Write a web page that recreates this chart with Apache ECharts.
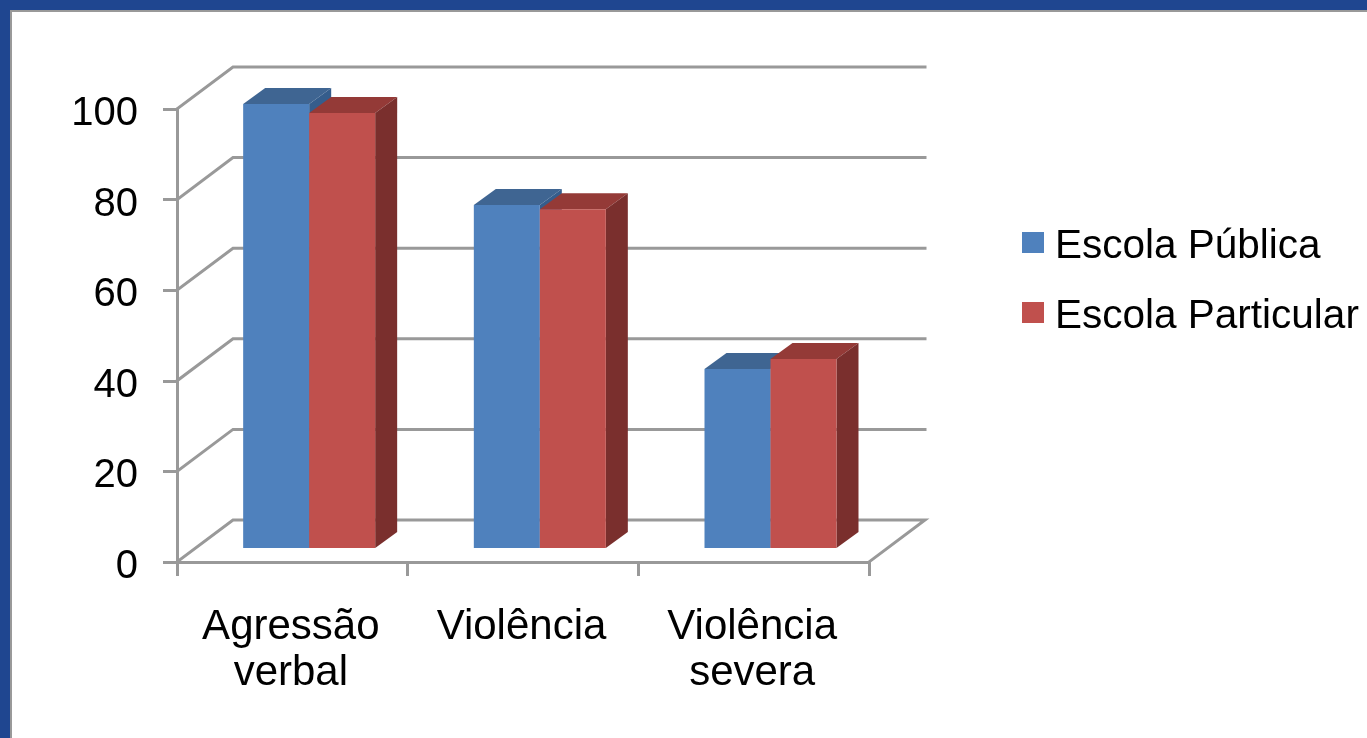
<!DOCTYPE html>
<html><head><meta charset="utf-8">
<script src="https://cdn.jsdelivr.net/npm/echarts@6/dist/echarts.min.js"></script>
<style>html,body{margin:0;padding:0;background:#fff;overflow:hidden}#c{width:1367px;height:738px;filter:blur(0.6px)}</style>
</head><body><div id="c"></div>
<script>
const categories = ['Agressão\nverbal', 'Violência', 'Violência\nsevera'];
const seriesNames = ['Escola Pública', 'Escola Particular'];
const publica = [98, 75.7, 39.5];
const particular = [96, 74.8, 41.7];
const yTicks = [0, 20, 40, 60, 80, 100];

const FONT = '"Liberation Sans", Arial, sans-serif';
const GRID = '#999999';
const faces = [
  {front: '#4F81BD', top: '#3F6592', side: '#355D8C'},
  {front: '#C0504D', top: '#943A37', side: '#7A2F2D'}
];
const WALL_DX = 56, WALL_DY = -42;
const BASE_DY = -14, DEPTH_DX = 22, DEPTH_DY = -16, BAR_W = 66;

function wallItem(params, api) {
  const v = api.value(0);
  const a = api.coord([0, v]);
  const left = a[0] - api.size([1, 0])[0] / 2;
  const right = left + api.size([1, 0])[0] * categories.length;
  const y = a[1];
  const pts = [[left, y], [left + WALL_DX, y + WALL_DY], [right + WALL_DX, y + WALL_DY]];
  if (v === 0) pts.push([right, y]);
  return {type: 'polyline', shape: {points: pts}, silent: true,
    style: {stroke: GRID, lineWidth: 3, fill: null, lineCap: 'square'}};
}

function barItem(s) {
  return function (params, api) {
    const top = api.coord([api.value(0), api.value(1)]);
    const x0 = top[0] + (s - 0.745) * BAR_W;
    const x1 = x0 + BAR_W;
    const yT = top[1] + BASE_DY;
    const yB = api.coord([api.value(0), 0])[1] + BASE_DY;
    const c = faces[s];
    return {type: 'group', children: [
      {type: 'polygon', shape: {points: [[x0, yT], [x0 + DEPTH_DX, yT + DEPTH_DY], [x1 + DEPTH_DX, yT + DEPTH_DY], [x1, yT]]}, style: {fill: c.top}},
      {type: 'polygon', shape: {points: [[x1, yT], [x1 + DEPTH_DX, yT + DEPTH_DY], [x1 + DEPTH_DX, yB + DEPTH_DY], [x1, yB]]}, style: {fill: c.side}},
      {type: 'rect', shape: {x: x0, y: yT, width: BAR_W, height: yB - yT}, style: {fill: c.front}}
    ]};
  };
}

const chart = echarts.init(document.getElementById('c'), null, {renderer: 'canvas'});
chart.setOption({
  animation: false,
  backgroundColor: '#ffffff',
  graphic: [
    {type: 'rect', shape: {x: 0, y: 0, width: 1367, height: 12}, style: {fill: '#999999'}, z: 0},
    {type: 'rect', shape: {x: 0, y: 0, width: 12, height: 738}, style: {fill: '#999999'}, z: 0},
    {type: 'rect', shape: {x: 0, y: 0, width: 1367, height: 10}, style: {fill: '#1F4690'}, z: 1},
    {type: 'rect', shape: {x: 0, y: 0, width: 10, height: 738}, style: {fill: '#1F4690'}, z: 1}
  ],
  grid: {left: 177, top: 109, width: 692, height: 453},
  legend: {
    left: 1022, top: 226, padding: 0, orient: 'vertical', icon: 'rect',
    itemWidth: 22, itemHeight: 21, itemGap: 29, selectedMode: false,
    data: seriesNames,
    formatter: name => '{t|' + name + '}',
    textStyle: {
      color: '#000', padding: [0, 0, 0, 6],
      rich: {t: {fontFamily: FONT, fontSize: 40.5, color: '#000', padding: [8, 0, 0, 0]}}
    }
  },
  xAxis: {
    type: 'category', data: categories, boundaryGap: true,
    axisLine: {lineStyle: {color: GRID, width: 3}},
    axisTick: {show: true, length: 14, lineStyle: {color: GRID, width: 3}},
    axisLabel: {fontFamily: FONT, fontSize: 42, color: '#000', margin: 42, lineHeight: 46, interval: 0, padding: [0, 3, 0, 0]}
  },
  yAxis: {
    type: 'value', min: 0, max: 100, interval: 20,
    axisLine: {show: true, lineStyle: {color: GRID, width: 3}},
    axisTick: {show: true, length: 14, lineStyle: {color: GRID, width: 3}},
    splitLine: {show: false},
    axisLabel: {fontFamily: FONT, fontSize: 40, color: '#000', margin: 39, verticalAlign: 'top', lineHeight: 10}
  },
  series: [
    {name: 'walls', type: 'custom', renderItem: wallItem, data: yTicks.map(v => [v]), encode: {y: 0}, silent: true, z: 1},
    {name: seriesNames[0], type: 'custom', renderItem: barItem(0), data: publica.map((v, i) => [i, v]), encode: {x: 0, y: 1}, itemStyle: {color: faces[0].front}, z: 2},
    {name: seriesNames[1], type: 'custom', renderItem: barItem(1), data: particular.map((v, i) => [i, v]), encode: {x: 0, y: 1}, itemStyle: {color: faces[1].front}, z: 3}
  ]
});
</script></body></html>
